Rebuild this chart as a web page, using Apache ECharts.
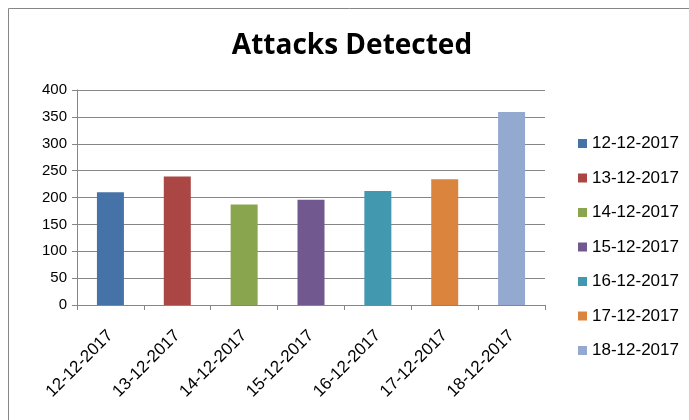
<!DOCTYPE html>
<html>
<head>
<meta charset="utf-8">
<script src="https://cdn.jsdelivr.net/npm/echarts@6/dist/echarts.min.js"></script>
<style>
  html, body { margin: 0; padding: 0; background: #fff; }
  #chart { width: 689px; height: 420px; }
</style>
</head>
<body>
<div id="chart"></div>
<script>
// data
const dates = ['12-12-2017', '13-12-2017', '14-12-2017', '15-12-2017', '16-12-2017', '17-12-2017', '18-12-2017']
const attacks = [210, 239, 187, 196, 212, 234, 359]
const colors = ['#4572a7', '#aa4643', '#89a54e', '#71588f', '#4198af', '#db843d', '#93a9cf']
const yTicks = [0, 50, 100, 150, 200, 250, 300, 350, 400]

const font = 'Liberation Sans'

// one series per date so each gets its own legend entry, stacked to keep bars centred
const series = dates.map((d, i) => ({
    name: d,
    type: 'bar',
    stack: 'all',
    barWidth: 27,
    itemStyle: { color: colors[i] },
    data: dates.map((_, j) => (j === i ? attacks[i] : '-'))
}))

const myChart = echarts.init(document.getElementById('chart'))
myChart.setOption({
    animation: false,
    title: {
        text: 'Attacks Detected',
        left: 347,
        textAlign: 'center',
        top: 27,
        textStyle: { fontFamily: 'Open Sans', fontWeight: 'bold', fontSize: 28, color: '#000' }
    },
    graphic: [{
        type: 'rect',
        shape: { x: 8.5, y: 8.5, width: 700, height: 430 },
        style: { fill: 'none', stroke: '#868686', lineWidth: 1 }
    }],
    legend: {
        orient: 'vertical',
        left: 573,
        top: 130,
        itemWidth: 9,
        itemHeight: 9,
        itemGap: 17.5,
        icon: 'rect',
        data: dates,
        textStyle: { fontFamily: font, fontSize: 17, color: '#000' }
    },
    grid: { left: 77, right: 144, top: 90, bottom: 115 },
    xAxis: {
        type: 'category',
        data: dates,
        axisLine: { lineStyle: { color: '#868686' } },
        axisTick: { show: true, length: 5, lineStyle: { color: '#868686' } },
        axisLabel: {
            rotate: 45,
            interval: 0,
            margin: 28,
            fontFamily: font,
            fontSize: 17,
            color: '#000'
        }
    },
    yAxis: {
        type: 'value',
        min: yTicks[0],
        max: yTicks[yTicks.length - 1],
        interval: 50,
        axisLine: { show: true, lineStyle: { color: '#868686' } },
        axisTick: { show: true, length: 5, lineStyle: { color: '#868686' } },
        splitLine: { lineStyle: { color: '#868686' } },
        axisLabel: { fontFamily: font, fontSize: 15, color: '#000', margin: 10 }
    },
    series: series
})
</script>
</body>
</html>
